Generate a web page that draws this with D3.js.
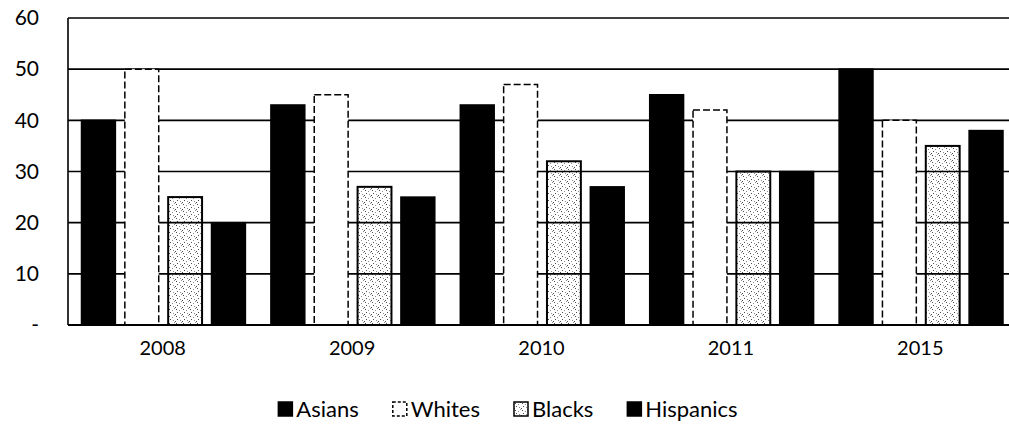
<!DOCTYPE html>
<html>
<head>
<meta charset="utf-8">
<title>Groups by year</title>
<script src="https://d3js.org/d3.v7.min.js"></script>
<style>
  body { margin: 0; background: #fff; }
  svg { display: block; font-family: Lato, "Open Sans", sans-serif; }
  .tick text { fill: #000; }
</style>
</head>
<body>
<div id="chart"></div>
<script>
  // data
  var years = ["2008", "2009", "2010", "2011", "2015"];
  var groups = ["Asians", "Whites", "Blacks", "Hispanics"];
  var asians    = [40, 43, 43, 45, 50];
  var whites    = [50, 45, 47, 42, 40];
  var blacks    = [25, 27, 32, 30, 35];
  var hispanics = [20, 25, 27, 30, 38];
  var yTicks = [0, 10, 20, 30, 40, 50, 60];
  var yTickLabels = ["-", "10", "20", "30", "40", "50", "60"];

  var values = { Asians: asians, Whites: whites, Blacks: blacks, Hispanics: hispanics };

  var W = 1009, H = 431;
  var svg = d3.select("#chart").append("svg")
      .attr("width", W)
      .attr("height", H);

  var defs = svg.append("defs");
  // speckled fill for the Blacks series, see-through so the grid shows
  var pat = defs.append("pattern")
      .attr("id", "speckle")
      .attr("patternUnits", "userSpaceOnUse")
      .attr("width", 7).attr("height", 7);
  [[1, 1], [4, 2], [2, 4], [5, 5], [0, 6], [6, 0]].forEach(function(p, i) {
    pat.append("rect")
      .attr("x", p[0]).attr("y", p[1])
      .attr("width", 1).attr("height", 1)
      .attr("fill", "#000")
      .attr("fill-opacity", i % 2 ? 0.45 : 0.7);
  });

  var plotLeft = 68, plotTop = 18, plotBottom = 325;
  var bandW = 189.4;

  var x = d3.scaleBand()
      .domain(years)
      .range([plotLeft, plotLeft + bandW * years.length])
      .padding(0);

  var xs = d3.scaleBand()
      .domain(groups)
      .range([13.5, bandW - 12])
      .paddingInner(0.218)
      .paddingOuter(0);

  var y = d3.scaleLinear()
      .domain([0, 60])
      .range([plotBottom, plotTop]);

  // gridlines
  svg.append("g")
    .selectAll("line")
    .data(yTicks.filter(function(d) { return d > 0; }))
    .join("line")
      .attr("x1", plotLeft).attr("x2", W)
      .attr("y1", function(d) { return y(d); })
      .attr("y2", function(d) { return y(d); })
      .attr("stroke", "#000")
      .attr("stroke-width", 1.6);

  // bars
  var style = {
    Asians:    { fill: "#000", stroke: "#000", dash: null },
    Whites:    { fill: "#fff", stroke: "#000", dash: "7,3" },
    Blacks:    { fill: "url(#speckle)", stroke: "#000", dash: null },
    Hispanics: { fill: "#000", stroke: "#000", dash: null }
  };

  var bars = [];
  years.forEach(function(yr, i) {
    groups.forEach(function(g) {
      bars.push({ year: yr, group: g, value: values[g][i] });
    });
  });

  svg.append("g")
    .selectAll("rect")
    .data(bars)
    .join("rect")
      .attr("x", function(d) { return x(d.year) + xs(d.group); })
      .attr("y", function(d) { return y(d.value); })
      .attr("width", xs.bandwidth())
      .attr("height", function(d) { return y(0) - y(d.value); })
      .attr("fill", function(d) { return style[d.group].fill; })
      .attr("stroke", function(d) { return style[d.group].stroke; })
      .attr("stroke-width", function(d) { return d.group == "Blacks" ? 2 : 1.5; })
      .attr("stroke-dasharray", function(d) { return style[d.group].dash; });

  // axes lines
  svg.append("line")
    .attr("x1", plotLeft).attr("x2", plotLeft)
    .attr("y1", y(60)).attr("y2", y(0))
    .attr("stroke", "#000").attr("stroke-width", 1.6);
  svg.append("line")
    .attr("x1", plotLeft).attr("x2", W)
    .attr("y1", y(0)).attr("y2", y(0))
    .attr("stroke", "#000").attr("stroke-width", 1.8);

  // y axis labels
  var yAxis = d3.axisLeft(y)
      .tickValues(yTicks)
      .tickSize(0)
      .tickPadding(0)
      .tickFormat(function(d, i) { return yTickLabels[i]; });
  svg.append("g")
      .attr("transform", "translate(39,0)")
      .call(yAxis)
      .call(function(g) { g.select(".domain").remove(); })
      .selectAll("text")
      .attr("font-size", 21)
      .attr("font-family", "Lato, sans-serif");

  // x axis labels
  var xAxis = d3.axisBottom(x).tickSize(0).tickPadding(0);
  svg.append("g")
      .attr("transform", "translate(0,341)")
      .call(xAxis)
      .call(function(g) { g.select(".domain").remove(); })
      .selectAll("text")
      .attr("font-size", 20)
      .attr("font-family", "Lato, sans-serif");

  // legend
  var legend = svg.append("g");
  var lx = 0, gap = 34;
  var items = legend.selectAll("g")
    .data(groups)
    .join("g");
  items.append("rect")
    .attr("y", -7).attr("width", 14).attr("height", 14)
    .attr("fill", function(d) { return style[d].fill; })
    .attr("stroke", "#000")
    .attr("stroke-width", 1.5)
    .attr("stroke-dasharray", function(d) { return style[d].dash ? "3,2" : null; });
  items.append("text")
    .attr("x", 18)
    .attr("dy", "0.35em")
    .attr("font-size", 22)
    .text(function(d) { return d; });
  items.each(function() {
    var w = this.querySelector("text").getComputedTextLength() + 18;
    d3.select(this).attr("transform", "translate(" + lx + ",0)");
    lx += w + gap;
  });
  var total = lx - gap;
  legend.attr("transform", "translate(" + (508 - total / 2) + ",409)");
</script>
</body>
</html>
